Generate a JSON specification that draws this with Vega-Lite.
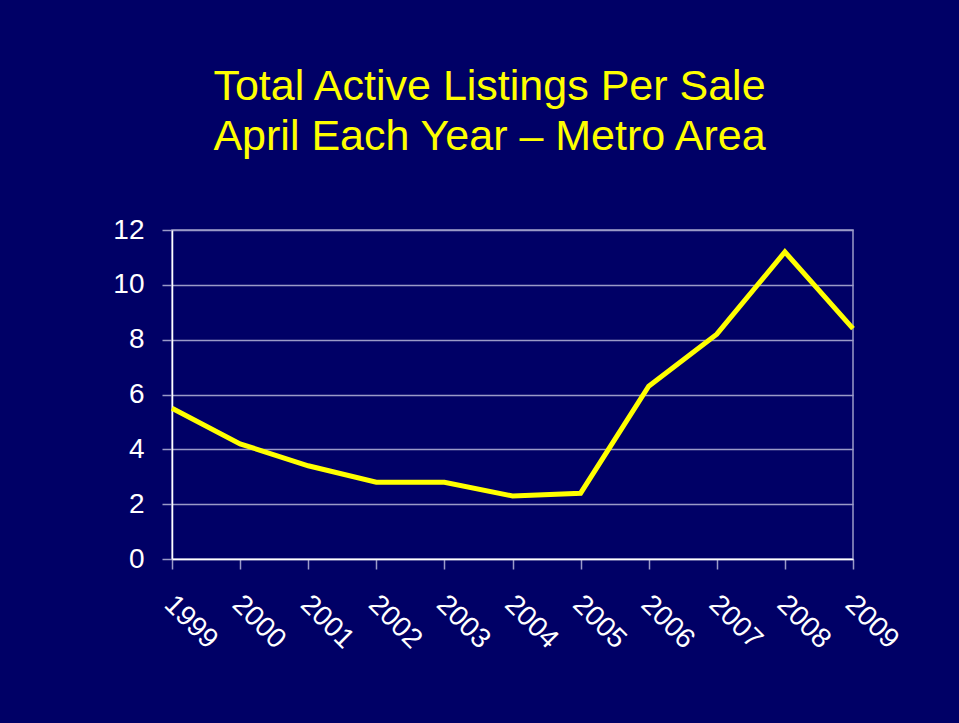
{
  "$schema": "https://vega.github.io/schema/vega-lite/v6.json",
  "autosize": {"type": "none"},
  "width": 681,
  "height": 329,
  "padding": {"left": 172, "top": 230, "right": 106, "bottom": 164},
  "background": "#000066",
  "title": {
    "text": ["Total Active Listings Per Sale", "April Each Year – Metro Area"],
    "color": "#FFFF00",
    "font": "Liberation Sans",
    "fontSize": 43,
    "fontWeight": "normal",
    "lineHeight": 50,
    "anchor": "middle",
    "frame": "group",
    "dx": -23,
    "offset": 57
  },
  "config": {
    "view": {"stroke": "#9A9AC8", "strokeWidth": 1.5},
    "font": "Liberation Sans"
  },
  "data": {
    "values": [
      {"year": "1999", "ratio": 5.5},
      {"year": "2000", "ratio": 4.2},
      {"year": "2001", "ratio": 3.4},
      {"year": "2002", "ratio": 2.8},
      {"year": "2003", "ratio": 2.8},
      {"year": "2004", "ratio": 2.3},
      {"year": "2005", "ratio": 2.4},
      {"year": "2006", "ratio": 6.3},
      {"year": "2007", "ratio": 8.2},
      {"year": "2008", "ratio": 11.2},
      {"year": "2009", "ratio": 8.4}
    ]
  },
  "mark": {"type": "line", "color": "#FFFF00", "strokeWidth": 5, "strokeJoin": "miter"},
  "encoding": {
    "x": {
      "field": "year",
      "type": "ordinal",
      "scale": {"type": "point", "padding": 0},
      "axis": {
        "title": null,
        "labelAngle": 45,
        "labelAlign": "left",
        "labelBaseline": "top",
        "labelFontSize": 28,
        "labelColor": "#FFFFFF",
        "labelPadding": 21,
        "labelOffset": 6,
        "tickColor": "#9A9AC8",
        "tickSize": 10,
        "tickWidth": 1.5,
        "domainColor": "#FFFFFF",
        "domainWidth": 1.5,
        "grid": false
      }
    },
    "y": {
      "field": "ratio",
      "type": "quantitative",
      "scale": {"domain": [0, 12], "nice": false},
      "axis": {
        "title": null,
        "values": [0, 2, 4, 6, 8, 10, 12],
        "labelFontSize": 28,
        "labelColor": "#FFFFFF",
        "labelPadding": 18,
        "tickColor": "#9A9AC8",
        "tickSize": 10,
        "tickWidth": 1.5,
        "domainColor": "#FFFFFF",
        "domainWidth": 1.5,
        "grid": true,
        "gridColor": "#9A9AC8",
        "gridWidth": 1.5
      }
    }
  }
}
